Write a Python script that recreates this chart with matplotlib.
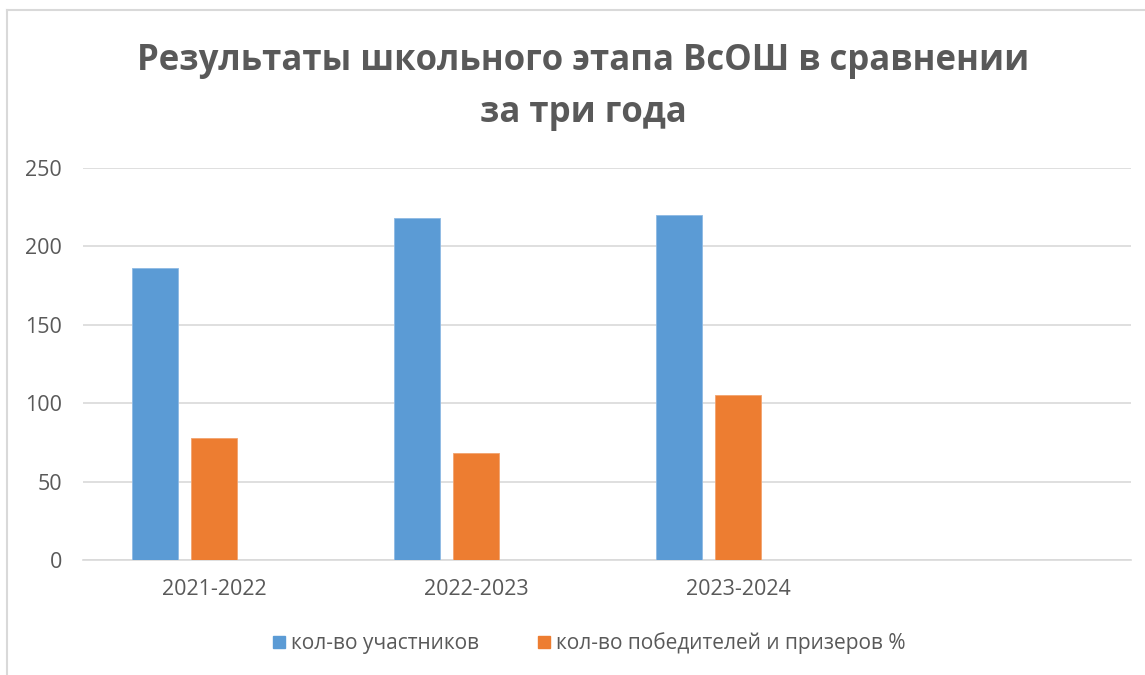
import numpy as np
import matplotlib.pyplot as plt
from matplotlib.lines import Line2D

plt.rcParams['font.family'] = ['Open Sans', 'DejaVu Sans']

# data
years = ["2021-2022", "2022-2023", "2023-2024", ""]
participants = [186, 218, 220]
winners_pct = [78, 68, 105]
series_names = ["кол-во участников", "кол-во победителей и призеров %"]
title = "Результаты школьного этапа ВсОШ в сравнении\nза три года"

blue = "#5B9BD5"
orange = "#ED7D31"
grey_txt = "#595959"

W, H = 1145, 675
fig = plt.figure(figsize=(W / 100, H / 100), dpi=100)

# axes box in pixels: x 83..1131, y 168..560
ax = fig.add_axes([83 / W, 1 - 560 / H, (1131 - 83) / W, (560 - 168) / H])

x = np.arange(len(participants))
bw = 46 / 262
step = 59 / 262
ax.bar(x - step, participants, width=bw, color=blue, edgecolor="#8DB9E4", linewidth=0.6,
       label=series_names[0], zorder=3)
ax.bar(x, winners_pct, width=bw, color=orange, edgecolor="#F2A36F", linewidth=0.6,
       label=series_names[1], zorder=3)

ax.set_xlim(-0.5, len(years) - 0.5)
ax.set_ylim(0, 250)
ax.set_yticks(np.arange(0, 251, 50))
ax.set_xticks(np.arange(len(years)))
ax.set_xticklabels(years)
ax.grid(axis="y", color="#D9D9D9", linewidth=1.2, zorder=0)
for s in ["top", "right", "left"]:
    ax.spines[s].set_visible(False)
ax.spines["bottom"].set_color("#D9D9D9")
ax.spines["bottom"].set_linewidth(1.2)
ax.tick_params(axis="both", length=0, labelsize=15.5, colors=grey_txt)
ax.tick_params(axis="y", pad=15)
ax.tick_params(axis="x", pad=14)

fig.text(583 / W, 1 - 87 / H, title, ha="center", va="center", fontsize=25,
         fontweight="bold", color=grey_txt, linespacing=1.6)

handles = [Line2D([], [], marker="s", linestyle="none", markersize=9, color=blue),
           Line2D([], [], marker="s", linestyle="none", markersize=9, color=orange)]
fig.legend(handles, series_names, loc="center", bbox_to_anchor=(587 / W, 1 - 643 / H),
           ncol=2, frameon=False, fontsize=15, labelcolor=grey_txt,
           handletextpad=0.1, columnspacing=2.6, handlelength=1.0)

# chart frame (top and left edge visible in the reference)
fig.add_artist(Line2D([7 / W, 7 / W], [0, 1 - 10 / H], color="#D9D9D9", linewidth=1.5))
fig.add_artist(Line2D([7 / W, 1], [1 - 10 / H, 1 - 10 / H], color="#D9D9D9", linewidth=1.5))

fig.savefig("out.png", dpi=100, facecolor="white")
